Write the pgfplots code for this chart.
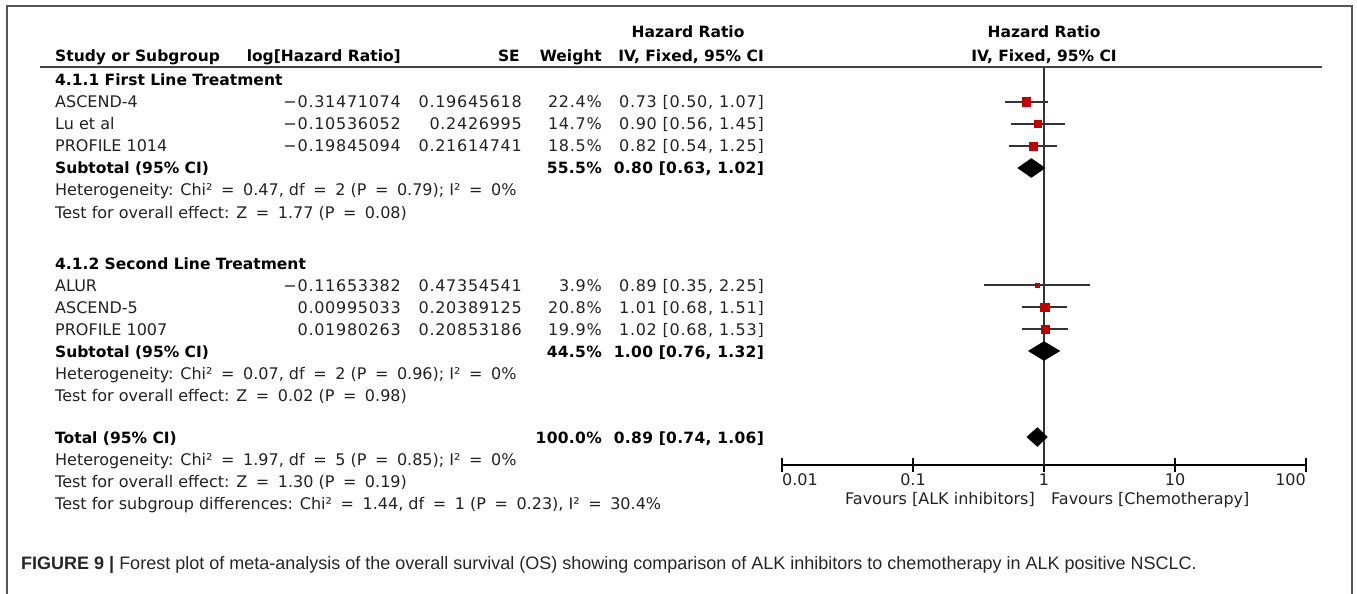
\documentclass[border=0pt]{standalone}
\usepackage{pgfplots}
\pgfplotsset{compat=1.18}
\usepackage{fontspec}
\setmainfont{DejaVu Sans}
\newfontfamily\numfont[LetterSpace=4.5]{DejaVu Sans}
\newfontfamily\numfontb[LetterSpace=2,BoldFont={DejaVu Sans Bold}]{DejaVu Sans}
\newfontfamily\capfont{Liberation Sans}
\definecolor{hrred}{HTML}{C00000}
\definecolor{txt}{HTML}{222222}
\definecolor{framec}{HTML}{555555}
\definecolor{cil}{HTML}{333333}
\newcommand\tf{\fontsize{16bp}{19bp}\selectfont}
\newcommand\bfnt{\fontsize{15.5bp}{19bp}\selectfont\bfseries}
\newcommand\eq{\hspace{3.5bp}=\hspace{3.5bp}}
\newcommand\mn{−}
% row text: x, row-centre y (pixels from top), anchor, text
\newcommand\rt[4]{\node[anchor=base #3, inner sep=0pt, font=\tf, text=txt] at (#1,{-(#2+6)}) {#4};}
\newcommand\rn[4]{\node[anchor=base #3, inner sep=0pt, font=\numfont\tf, text=txt] at (#1,{-(#2+6)}) {#4};}
\newcommand\rb[4]{\node[anchor=base #3, inner sep=0pt, font=\bfnt, text=black] at (#1,{-(#2+6)}) {#4};}
\newcommand\rbn[4]{\node[anchor=base #3, inner sep=0pt, font=\numfontb\bfnt, text=black] at (#1,{-(#2+6)}) {#4};}
\begin{document}
\begin{tikzpicture}
\begin{scope}[x=1bp,y=1bp]
\useasboundingbox (0,0) rectangle (1357,-594);
% frame
\draw[framec, line width=1.5bp] (7,-600) -- (7,-6) -- (1352,-6) -- (1352,-600);
% header rule
\draw[framec!80!black, line width=2.4bp] (40,-67) -- (1322,-67);
% header
\rb{688}{32}{}{Hazard Ratio}
\rb{1044}{32}{}{Hazard Ratio}
\rb{55}{56}{west}{Study or Subgroup}
\rb{401}{56}{east}{log[Hazard Ratio]}
\rb{520}{56}{east}{SE}
\rb{602}{56}{east}{Weight}
\rb{764}{56}{east}{IV, Fixed, 95\% CI}
\rb{1044}{56}{}{IV, Fixed, 95\% CI}
% group 1
\rb{55}{80}{west}{4.1.1 First Line Treatment}
\rt{55}{102}{west}{ASCEND-4}
\rn{401}{102}{east}{\mn0.31471074}
\rn{522}{102}{east}{0.19645618}
\rn{602}{102}{east}{22.4\%}
\rn{764}{102}{east}{0.73 [0.50, 1.07]}
\rt{55}{124}{west}{Lu et al}
\rn{401}{124}{east}{\mn0.10536052}
\rn{522}{124}{east}{0.2426995}
\rn{602}{124}{east}{14.7\%}
\rn{764}{124}{east}{0.90 [0.56, 1.45]}
\rt{55}{146}{west}{PROFILE 1014}
\rn{401}{146}{east}{\mn0.19845094}
\rn{522}{146}{east}{0.21614741}
\rn{602}{146}{east}{18.5\%}
\rn{764}{146}{east}{0.82 [0.54, 1.25]}
\rb{55}{168}{west}{Subtotal (95\% CI)}
\rbn{602}{168}{east}{55.5\%}
\rbn{764}{168}{east}{0.80 [0.63, 1.02]}
\rt{55}{190}{west}{Heterogeneity: Chi² \eq{} 0.47, df \eq{} 2 (P \eq{} 0.79); I² \eq{} 0\%}
\rt{55}{212}{west}{Test for overall effect: Z \eq{} 1.77 (P \eq{} 0.08)}
% group 2
\rb{55}{263}{west}{4.1.2 Second Line Treatment}
\rt{55}{285}{west}{ALUR}
\rn{401}{285}{east}{\mn0.11653382}
\rn{522}{285}{east}{0.47354541}
\rn{602}{285}{east}{3.9\%}
\rn{764}{285}{east}{0.89 [0.35, 2.25]}
\rt{55}{307}{west}{ASCEND-5}
\rn{401}{307}{east}{0.00995033}
\rn{522}{307}{east}{0.20389125}
\rn{602}{307}{east}{20.8\%}
\rn{764}{307}{east}{1.01 [0.68, 1.51]}
\rt{55}{329}{west}{PROFILE 1007}
\rn{401}{329}{east}{0.01980263}
\rn{522}{329}{east}{0.20853186}
\rn{602}{329}{east}{19.9\%}
\rn{764}{329}{east}{1.02 [0.68, 1.53]}
\rb{55}{351}{west}{Subtotal (95\% CI)}
\rbn{602}{351}{east}{44.5\%}
\rbn{764}{351}{east}{1.00 [0.76, 1.32]}
\rt{55}{373}{west}{Heterogeneity: Chi² \eq{} 0.07, df \eq{} 2 (P \eq{} 0.96); I² \eq{} 0\%}
\rt{55}{395}{west}{Test for overall effect: Z \eq{} 0.02 (P \eq{} 0.98)}
% total
\rb{55}{437}{west}{Total (95\% CI)}
\rbn{602}{437}{east}{100.0\%}
\rbn{764}{437}{east}{0.89 [0.74, 1.06]}
\rt{55}{459}{west}{Heterogeneity: Chi² \eq{} 1.97, df \eq{} 5 (P \eq{} 0.85); I² \eq{} 0\%}
\rt{55}{481}{west}{Test for overall effect: Z \eq{} 1.30 (P \eq{} 0.19)}
\rt{55}{503}{west}{Test for subgroup differences: Chi² \eq{} 1.44, df \eq{} 1 (P \eq{} 0.23), I² \eq{} 30.4\%}
% tick labels and favours
\rt{782}{479}{west}{0.01}
\rt{913}{479}{}{0.1}
\rt{1044}{479}{}{1}
\rt{1175}{479}{}{10}
\rt{1306}{479}{east}{100}
\rt{1035}{498}{east}{Favours [ALK inhibitors]}
\rt{1051}{498}{west}{Favours [Chemotherapy]}
% caption
\node[anchor=base west, inner sep=0pt, font=\capfont\fontsize{18bp}{21bp}\selectfont, text=black!85] at (21,-569) {\textbf{FIGURE 9 |} Forest plot of meta-analysis of the overall survival (OS) showing comparison of ALK inhibitors to chemotherapy in ALK positive NSCLC.};
\end{scope}
\begin{axis}[
  at={(782bp,-465bp)}, anchor=south west,
  scale only axis, width=524bp, height=398bp,
  xmode=log, xmin=0.01, xmax=100, ymin=-465, ymax=-67,
  axis x line*=bottom, axis y line=none,
  axis line style={-, black, line width=1.3bp},
  xtick={0.01,0.1,1,10,100}, xticklabels={,,,,},
  xminorticks=false,
  major tick length=14bp, tick align=center,
  tick style={black, line width=1.2bp},
  clip=false,
]
% line of no effect
\addplot[cil, line width=2bp] coordinates {(1,-67) (1,-465)};
% confidence intervals
\addplot[cil, line width=2bp] coordinates {(0.50,-102) (1.07,-102)};
\addplot[cil, line width=2bp] coordinates {(0.56,-124) (1.45,-124)};
\addplot[cil, line width=2bp] coordinates {(0.54,-146) (1.25,-146)};
\addplot[cil, line width=2bp] coordinates {(0.35,-285) (2.25,-285)};
\addplot[cil, line width=2bp] coordinates {(0.68,-307) (1.51,-307)};
\addplot[cil, line width=2bp] coordinates {(0.68,-329) (1.53,-329)};
% study estimates (square size ~ weight)
\addplot[only marks, mark=square*, mark size=4.4bp, hrred, mark options={draw=none}] coordinates {(0.73,-102)};
\addplot[only marks, mark=square*, mark size=3.6bp, hrred, mark options={draw=none}] coordinates {(0.90,-124)};
\addplot[only marks, mark=square*, mark size=4.0bp, hrred, mark options={draw=none}] coordinates {(0.82,-146)};
\addplot[only marks, mark=square*, mark size=1.9bp, hrred, mark options={draw=none}] coordinates {(0.89,-285)};
\addplot[only marks, mark=square*, mark size=4.3bp, hrred, mark options={draw=none}] coordinates {(1.01,-307)};
\addplot[only marks, mark=square*, mark size=4.2bp, hrred, mark options={draw=none}] coordinates {(1.02,-329)};
% pooled diamonds
\addplot[black, fill=black] coordinates {(0.63,-168) (0.80,-158.5) (1.02,-168) (0.80,-177.5) (0.63,-168)};
\addplot[black, fill=black] coordinates {(0.76,-351) (1.00,-341.5) (1.32,-351) (1.00,-360.5) (0.76,-351)};
\addplot[black, fill=black] coordinates {(0.74,-437) (0.89,-427.5) (1.06,-437) (0.89,-446.5) (0.74,-437)};
\end{axis}
\end{tikzpicture}
\end{document}
